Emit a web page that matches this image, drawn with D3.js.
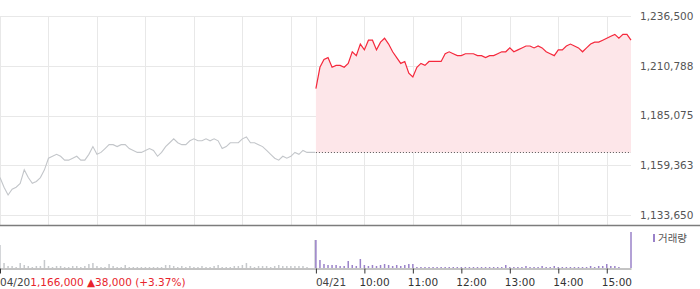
<!DOCTYPE html>
<head>
  <meta charset="utf-8">
  <style>
    body { margin: 0; background: #fff; }
    text { font-family: "DejaVu Sans", sans-serif; }
  </style>
  <title>Intraday price 04/20 - 04/21</title>
</head>

<body>
  <script src="https://cdn.jsdelivr.net/npm/d3@7"></script>

  <script>
    // chart data (prices in KRW, one value per 5 minutes, 09:00 .. 15:30)
    var prevDayPrice = [
      1153000, 1148000, 1144000, 1147000, 1148000, 1150000, 1157000, 1153000, 1150000, 1151000,
      1153000, 1157000, 1163000, 1164000, 1165000, 1164000, 1162000, 1162000, 1163000, 1164000,
      1162000, 1162000, 1165000, 1169000, 1165000, 1166000, 1168000, 1170000, 1170000, 1169000,
      1170000, 1170000, 1168000, 1167000, 1166000, 1166000, 1167000, 1168000, 1167000, 1164000,
      1166000, 1169000, 1171000, 1173000, 1171000, 1170000, 1170000, 1172000, 1173000, 1172000,
      1172000, 1173000, 1172000, 1173000, 1172000, 1168000, 1169000, 1171000, 1171000, 1171000,
      1173000, 1174000, 1171000, 1171000, 1170000, 1169000, 1167000, 1165000, 1163000, 1162000,
      1164000, 1163000, 1164000, 1166000, 1165000, 1167000, 1166000, 1166000, 1166000
    ];
    var todayPrice = [
      1199000, 1210000, 1214000, 1215000, 1210000, 1211000, 1211000, 1210000, 1212000, 1218000,
      1216000, 1222000, 1219000, 1224000, 1224000, 1219000, 1223000, 1225000, 1222000, 1218000,
      1215000, 1212000, 1213000, 1207000, 1205000, 1210000, 1212000, 1211000, 1213000, 1213000,
      1213000, 1213000, 1217000, 1218000, 1217000, 1216000, 1216000, 1217000, 1217000, 1217000,
      1216000, 1216000, 1215000, 1216000, 1216000, 1217000, 1218000, 1218000, 1220000, 1218000,
      1219000, 1220000, 1221000, 1221000, 1220000, 1221000, 1220000, 1218000, 1217000, 1216000,
      1219000, 1219000, 1221000, 1222000, 1221000, 1220000, 1218000, 1220000, 1222000, 1223000,
      1223000, 1224000, 1225000, 1226000, 1227000, 1225000, 1227000, 1227000, 1224000
    ];
    // volume (shares per 5 minutes)
    var prevDayVolume = [
      11500, 2500, 1000, 1000, 500, 2500, 1500, 1000, 500, 1000,
      1000, 4000, 1000, 500, 1000, 1000, 500, 500, 1000, 1000,
      500, 1000, 2000, 2500, 1000, 500, 500, 2000, 1000, 500,
      500, 1500, 500, 500, 500, 500, 500, 500, 500, 500,
      500, 1500, 1500, 1000, 500, 1000, 500, 1000, 500, 500,
      1000, 500, 500, 1000, 1500, 500, 500, 500, 1000, 1000,
      1500, 2500, 1000, 500, 1000, 1000, 1000, 500, 1000, 1500,
      1000, 1000, 1000, 1000, 1000, 1000, 500, 0, 14000
    ];
    var todayVolume = [
      14000, 4000, 2000, 1500, 1500, 1500, 1000, 1000, 3500, 1500,
      1000, 4500, 1500, 1000, 1500, 1000, 1500, 2000, 1500, 1000,
      1500, 1000, 1500, 2000, 2000, 500, 500, 500, 500, 500,
      500, 500, 500, 500, 500, 500, 500, 500, 500, 500,
      500, 500, 500, 500, 500, 500, 500, 1500, 500, 500,
      500, 500, 1000, 500, 500, 500, 1000, 500, 500, 1000,
      500, 500, 500, 500, 500, 500, 500, 500, 1000, 500,
      1000, 1000, 2000, 1000, 1000, 500, 0, 0, 18000
    ];
    var prevClose = 1166000;
    var priceTicks = [1236500, 1210788, 1185075, 1159363, 1133650];
    var dayLabels = ["04/20", "04/21"];
    var hourLabels = ["10:00", "11:00", "12:00", "13:00", "14:00", "15:00"];
    var changeText = "1,166,000 \u25B238,000 (+3.37%)";

    // dimensions
    var width = 700;
    var height = 289;
    var plotRight = 631;
    var mainTop = 16, mainBottom = 215, panelLine = 225.5;
    var volTop = 226, volBase = 268;
    var stepMin = 5;
    var dayOffset = 391; // minutes: second session starts here on the x axis

    var svg = d3.select("body").append("svg")
      .attr("width", width)
      .attr("height", height);

    // scales
    var x = d3.scaleLinear().domain([0, dayOffset + 390]).range([0, plotRight]);
    var y = d3.scaleLinear().domain([priceTicks[4], priceTicks[0]]).range([mainBottom, mainTop]);
    var yVol = d3.scaleLinear().domain([0, 21000]).range([volBase, volTop]);

    var prevData = prevDayPrice.map(function (v, i) { return { t: i * stepMin, v: v, vol: prevDayVolume[i] }; });
    var todayData = todayPrice.map(function (v, i) { return { t: dayOffset + i * stepMin, v: v, vol: todayVolume[i] }; });

    // hour grid positions (both sessions)
    var gridTimes = [];
    [0, dayOffset].forEach(function (off) {
      for (var h = 0; h <= 6; h++) gridTimes.push(off + h * 60);
    });

    // horizontal grid
    svg.append("g").selectAll("line").data(priceTicks).enter().append("line")
      .attr("x1", 0).attr("x2", plotRight)
      .attr("y1", function (d) { return Math.round(y(d)) + 0.5; })
      .attr("y2", function (d) { return Math.round(y(d)) + 0.5; })
      .attr("stroke", "#e8e8e8");

    // vertical grid
    svg.append("g").selectAll("line").data(gridTimes).enter().append("line")
      .attr("x1", function (d) { return Math.round(x(d)) + 0.5; })
      .attr("x2", function (d) { return Math.round(x(d)) + 0.5; })
      .attr("y1", mainTop).attr("y2", panelLine)
      .attr("stroke", "#e8e8e8");

    // pink area above the previous close
    svg.append("path").datum(todayData)
      .attr("fill", "#fde6e9")
      .attr("d", d3.area()
        .x(function (d) { return x(d.t); })
        .y0(y(prevClose))
        .y1(function (d) { return y(d.v); }));

    // previous day line
    svg.append("path").datum(prevData)
      .attr("fill", "none")
      .attr("stroke", "#c3c6ca")
      .attr("stroke-width", 1.1)
      .attr("d", d3.line().x(function (d) { return x(d.t); }).y(function (d) { return y(d.v); }));

    // previous close dotted line
    svg.append("line")
      .attr("x1", x(dayOffset)).attr("x2", plotRight)
      .attr("y1", Math.round(y(prevClose)) + 0.5).attr("y2", Math.round(y(prevClose)) + 0.5)
      .attr("stroke", "#555")
      .attr("stroke-dasharray", "1,2");

    // today line
    svg.append("path").datum(todayData)
      .attr("fill", "none")
      .attr("stroke", "#f5283c")
      .attr("stroke-width", 1.2)
      .attr("d", d3.line().x(function (d) { return x(d.t); }).y(function (d) { return y(d.v); }));

    // right price axis
    var yAxis = d3.axisRight(y).tickValues(priceTicks).tickSize(0).tickPadding(9)
      .tickFormat(d3.format(","));
    svg.append("g")
      .attr("transform", "translate(" + plotRight + ",0)")
      .call(yAxis)
      .call(function (g) { g.select(".domain").remove(); })
      .selectAll("text")
      .attr("fill", "#555")
      .style("font-size", "10.5px")
      .style("font-family", "DejaVu Sans");

    // panel separator
    svg.append("line")
      .attr("x1", 0).attr("x2", width)
      .attr("y1", panelLine).attr("y2", panelLine)
      .attr("stroke", "#7c7c7c").attr("stroke-width", 1.5);

    // volume bars
    svg.append("g").selectAll("rect").data(prevData).enter().append("rect")
      .attr("x", function (d) { return x(d.t) - 0.75; })
      .attr("width", 1.5)
      .attr("y", function (d) { return yVol(d.vol); })
      .attr("height", function (d) { return volBase - yVol(d.vol); })
      .attr("fill", "#c6c9cc");

    svg.append("g").selectAll("rect").data(todayData).enter().append("rect")
      .attr("x", function (d) { return x(d.t) - 0.75; })
      .attr("width", 1.5)
      .attr("y", function (d) { return yVol(d.vol); })
      .attr("height", function (d) { return volBase - yVol(d.vol); })
      .attr("fill", "#9a82c9");

    // volume baseline + time axis ticks
    var xAxis = d3.axisBottom(x)
      .tickValues([0, dayOffset].concat(hourLabels.map(function (d, i) { return dayOffset + (i + 1) * 60; })))
      .tickSize(5).tickSizeOuter(0)
      .tickFormat("");
    svg.append("g")
      .attr("transform", "translate(0," + (volBase + 0.5) + ")")
      .call(xAxis)
      .call(function (g) {
        g.select(".domain").attr("stroke", "#888");
        g.selectAll(".tick line").attr("stroke", "#333");
      });

    // date labels
    var labels = svg.append("g").style("font-size", "10.5px");
    var firstLabel = labels.append("text")
      .attr("x", 0).attr("y", 286)
      .attr("fill", "#444");
    firstLabel.append("tspan").text(dayLabels[0]);
    firstLabel.append("tspan").attr("fill", "#e8242c").text(changeText);

    labels.append("text")
      .attr("x", x(dayOffset)).attr("y", 286)
      .attr("fill", "#444")
      .text(dayLabels[1]);

    labels.selectAll(".hour").data(hourLabels).enter().append("text")
      .attr("class", "hour")
      .attr("x", function (d, i) { return x(dayOffset + (i + 1) * 60) - 5; })
      .attr("y", 286)
      .attr("fill", "#333")
      .text(function (d) { return d; });

    // volume legend
    svg.append("rect")
      .attr("x", 653).attr("y", 234)
      .attr("width", 2).attr("height", 8)
      .attr("fill", "#9a82c9");
    svg.append("text")
      .attr("x", 658).attr("y", 242)
      .style("font-family", "Noto Sans CJK KR")
      .style("font-size", "10.5px")
      .attr("fill", "#555")
      .text("거래량");
  </script>
</body>
